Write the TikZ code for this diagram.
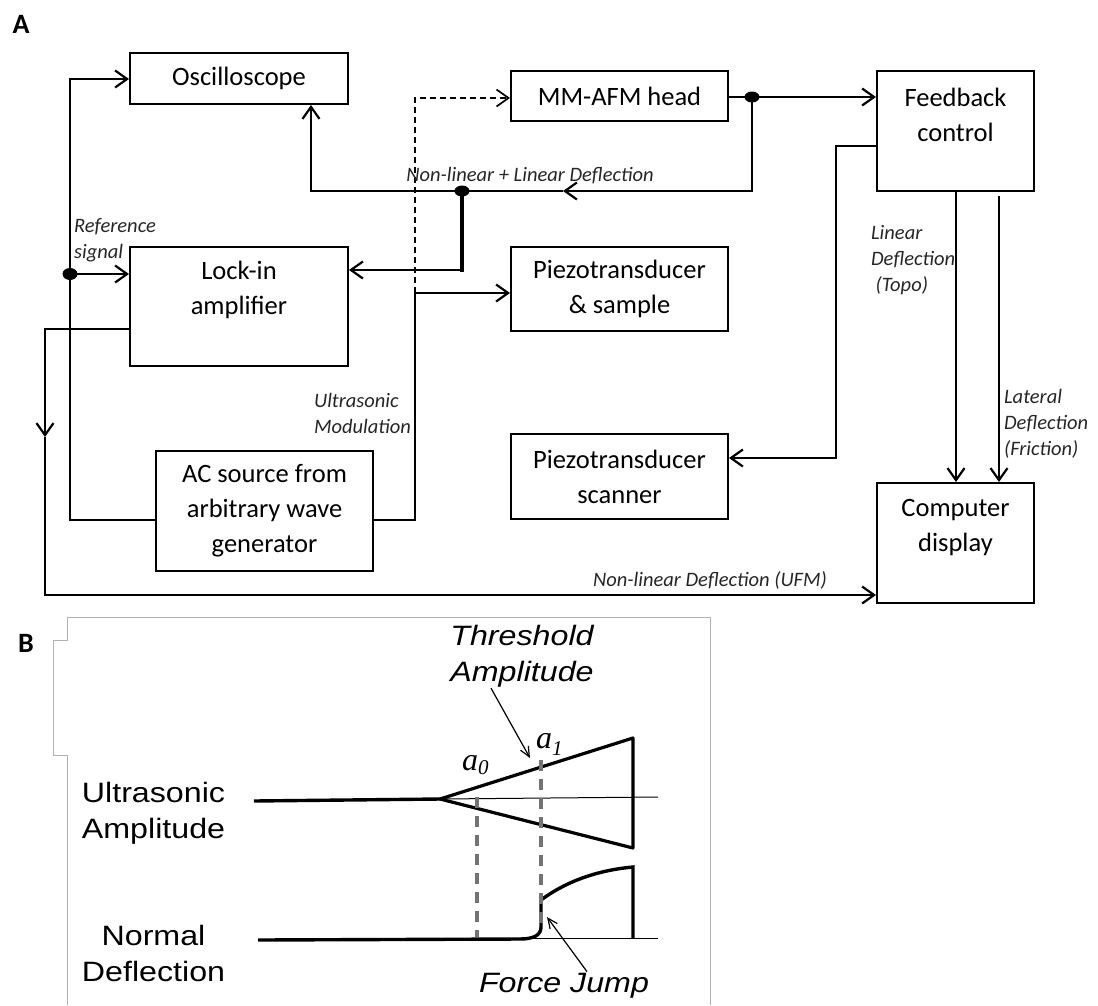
\documentclass[tikz,border=0pt]{standalone}
\usepackage{fontspec}
\usepackage{graphicx}
\setmainfont{Carlito}
\newfontfamily\hsans{Liberation Sans}
\newfontfamily\tserif{Liberation Serif}
\usetikzlibrary{arrows.meta,calc}
\newcommand\boxfont{\fontsize{26.5}{35}\selectfont}
\newcommand\labfont{\fontsize{20.5}{26}\selectfont\itshape}
\newcommand\bfontB{\hsans\fontsize{28}{36}\selectfont}
\newcommand\sx[1]{\scalebox{1.15}[1]{#1}}
\begin{document}
\begin{tikzpicture}[x=1pt,y=-1pt,
  line width=2.2pt,
  box/.style={draw, line width=2pt, inner sep=0pt, align=center, font=\boxfont},
  btext/.style={inner sep=0pt, align=center, font=\boxfont},
  lab/.style={inner sep=0pt, align=left, font=\labfont, text=black!85},
  arr/.style={-{Straight Barb[length=12pt,width=17pt]}},
  thinarr/.style={line width=1.2pt, -{Straight Barb[length=10pt,width=9pt]}},
  btxt/.style={inner sep=0pt, align=center, font=\bfontB},
  panel/.style={inner sep=0pt, font=\fontsize{28}{28}\selectfont\bfseries}
]
\useasboundingbox (0,0) rectangle (1098,1005);

% ---------------- Panel A ----------------
\node[panel] (pA) at (21,24) {A};

\node[box, minimum width=218pt, minimum height=51pt] (osc) at (239,78.5) {Oscilloscope};
\node[box, minimum width=218pt, minimum height=119pt] (lock) at (239,306.5) {};
\node[btext] (lockt) at (239,290) {Lock-in\\amplifier};
\node[box, minimum width=217pt, minimum height=50pt] (mm) at (619.5,96) {MM-AFM head};
\node[box, minimum width=217pt, minimum height=84pt] (ps) at (619.5,289) {Piezotransducer\\\& sample};
\node[box, minimum width=217pt, minimum height=85pt] (scan) at (619.5,476.5) {Piezotransducer\\scanner};
\node[box, minimum width=217pt, minimum height=120pt] (ac) at (264.5,511) {AC source from\\arbitrary wave\\generator};
\node[box, minimum width=157pt, minimum height=120pt] (fb) at (955.5,131) {};
\node[btext] (fbt) at (955.5,114.5) {Feedback\\control};
\node[box, minimum width=157pt, minimum height=120pt] (cd) at (955.5,543) {};
\node[btext] (cdt) at (955.5,527.5) {Computer\\display};

\coordinate (jref) at (70,274);
\coordinate (jac) at (415,293);
\coordinate (jmm) at (752,97);
\coordinate (jnl) at (462,191);
\coordinate (mid1) at (563,191);
\coordinate (mid2) at (45,437);
\coordinate (lat) at (999,196);

% connectors
\draw[arr] (ac.west |- 0,520) -- (70,520) -- (70,79) -- (osc.west |- 0,79);
\draw[arr] (jref) -- (lock.west |- jref);
\draw (ac.east |- 0,520) -- (415,520) -- (jac);
\draw[arr] (jac) -- (ps.west |- jac);
\draw[arr, line width=1.7pt, dash pattern=on 6pt off 4pt] (jac) -- (415,98) -- (mm.west |- 0,98);
\draw (mm.east |- jmm) -- (jmm);
\draw[arr] (jmm) -- (fb.west |- jmm);
\draw[arr] (jmm) -- (752,191) -- (mid1);
\draw[arr] (mid1) -- (311,191) -- (osc.south -| 311,0);
\draw[line width=4.5pt] (jnl) -- (462,271.5);
\draw[arr] (462,270) -- (lock.east |- 0,270);
\draw[arr] (fb.west |- 0,146) -- (836,146) -- (836,458) -- (scan.east |- 0,458);
\draw[arr] (fb.south -| 956,0) -- (cd.north -| 956,0);
\draw[arr] (lat) -- (cd.north -| lat);
\draw[arr] (lock.west |- 0,329) -- (45,329) -- (mid2);
\draw[arr] (mid2) -- (45,595) -- (cd.west |- 0,595);

% junction dots
\fill (jref) ellipse [x radius=7.5pt, y radius=6pt];
\fill (jmm) ellipse [x radius=7.5pt, y radius=5.5pt];
\fill (jnl) ellipse [x radius=7.5pt, y radius=5.5pt];

% labels
\node[lab, anchor=west] (lref) at (73,240) {Reference\\signal};
\node[lab] (lnl) at (530,176) {Non-linear + Linear Deflection};
\node[lab, anchor=west] (lum) at (313,413) {Ultrasonic\\Modulation};
\node[lab, anchor=west] (ltopo) at (870,260) {Linear\\Deflection\\\ (Topo)};
\node[lab, anchor=west] (llat) at (1003,424) {Lateral\\Deflection\\(Friction)};
\node[lab] (lufm) at (710,580) {Non-linear Deflection (UFM)};

% ---------------- Panel B ----------------
\node[panel] (pB) at (26,643) {B};
\draw[black!30, line width=0.8pt] (67,1005) -- (67,755) -- (53,755) -- (53,640) -- (67,640) -- (67,617) -- (710,617) -- (710,1005);

\coordinate (apex) at (440,799);
\coordinate (vup) at (633,738);
\coordinate (vlo) at (633,848);
\draw[line width=1pt] (apex) -- (658,797);
\draw[line width=3.4pt] (254,801) -- (apex);
\draw[line width=3.2pt, line join=round] (vup) -- (apex) -- (vlo) -- cycle;

\draw[line width=1pt] (515,938) -- (658,938);
\draw[line width=3.4pt] (258,940) -- (520,939) .. controls (534,939) and (541,935) .. (541,927) -- (541,900) .. controls (568,880) and (600,870) .. (633,867) -- (633,938);

\draw[black!55, line width=4pt, dash pattern=on 11pt off 8pt] (477,797) -- (477,937);
\draw[black!55, line width=4pt, dash pattern=on 11pt off 8pt] (541,760) -- (541,925);

\node[btxt] (tthr) at (522,656) {\itshape\sx{Threshold}\\\itshape\sx{Amplitude}};
\node[btxt] (tua) at (153.5,813) {\sx{Ultrasonic}\\\sx{Amplitude}};
\node[btxt] (tnd) at (153.5,953) {\sx{Normal}\\\sx{Deflection}};
\node[btxt, anchor=base] (tfj) at (564,992) {\itshape\sx{Force Jump}};
\node[inner sep=0pt, anchor=base west, font=\tserif\itshape\fontsize{32}{32}\selectfont] (ta0) at (461,770) {a\raisebox{-4pt}{\fontsize{21}{21}\selectfont 0}};
\node[inner sep=0pt, anchor=base west, font=\tserif\itshape\fontsize{32}{32}\selectfont] (ta1) at (535,748) {a\raisebox{-7pt}{\fontsize{21}{21}\selectfont 1}};

\draw[thinarr] (tthr.south -| 491,0) -- (530,758);
\draw[thinarr] (tfj.north -| 587,0) -- (547,917);
\end{tikzpicture}
\end{document}
